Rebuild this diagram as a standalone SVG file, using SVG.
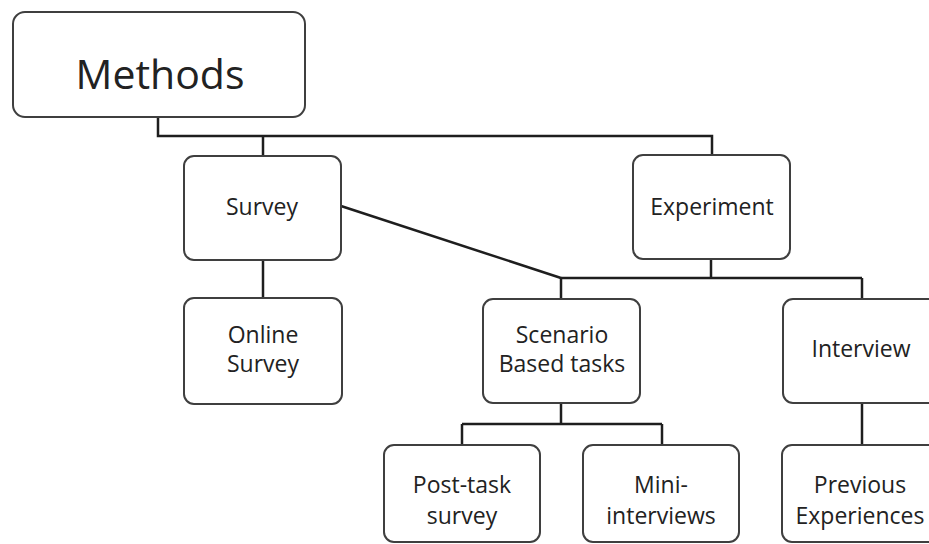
<svg xmlns="http://www.w3.org/2000/svg" width="929" height="544" viewBox="0 0 929 544">
  <style>
    .box { fill: #ffffff; stroke: #3f3f3f; stroke-width: 2; }
    .lbl { font-family: "Open Sans", "Noto Sans", sans-serif; font-size: 23px; fill: #222222; text-anchor: middle; }
    .conn { fill: none; stroke: #1e1e1e; stroke-width: 2.5; }
  </style>
  <rect width="929" height="544" fill="#ffffff"/>

  <!-- connectors -->
  <g id="connectors" class="conn">
    <path d="M158,117 V136 H712 V155"/>
    <path d="M263,136 V156"/>
    <path d="M263,260 V298"/>
    <path d="M341,206 L561,278"/>
    <path d="M711,259 V278"/>
    <path d="M561,278 H862"/>
    <path d="M561,278 V299"/>
    <path d="M862,278 V299"/>
    <path d="M561,403 V424"/>
    <path d="M462,424 H662"/>
    <path d="M462,424 V445"/>
    <path d="M662,424 V445"/>
    <path d="M862,403 V445"/>
  </g>

  <!-- nodes -->
  <g id="methods">
    <rect class="box" x="13" y="12" width="292" height="105" rx="12"/>
    <text class="lbl" x="160" y="89" style="font-size:41px">Methods</text>
  </g>
  <g id="survey">
    <rect class="box" x="184" y="156" width="157" height="104" rx="10"/>
    <text class="lbl" x="262" y="215">Survey</text>
  </g>
  <g id="experiment">
    <rect class="box" x="633" y="155" width="157" height="104" rx="10"/>
    <text class="lbl" x="712" y="215">Experiment</text>
  </g>
  <g id="online-survey">
    <rect class="box" x="184" y="298" width="158" height="106" rx="10"/>
    <text class="lbl" x="263" y="343">Online</text>
    <text class="lbl" x="263" y="372">Survey</text>
  </g>
  <g id="scenario-tasks">
    <rect class="box" x="483" y="299" width="157" height="104" rx="10"/>
    <text class="lbl" x="562" y="343">Scenario</text>
    <text class="lbl" x="562" y="372">Based tasks</text>
  </g>
  <g id="interview">
    <rect class="box" x="783" y="299" width="157" height="104" rx="10"/>
    <text class="lbl" x="861" y="357">Interview</text>
  </g>
  <g id="post-task-survey">
    <rect class="box" x="384" y="445" width="156" height="97" rx="10"/>
    <text class="lbl" x="462" y="493">Post-task</text>
    <text class="lbl" x="462" y="524">survey</text>
  </g>
  <g id="mini-interviews">
    <rect class="box" x="583" y="445" width="156" height="97" rx="10"/>
    <text class="lbl" x="661" y="493">Mini-</text>
    <text class="lbl" x="661" y="524">interviews</text>
  </g>
  <g id="previous-experiences">
    <rect class="box" x="782" y="445" width="158" height="97" rx="10"/>
    <text class="lbl" x="860" y="493">Previous</text>
    <text class="lbl" x="860" y="524">Experiences</text>
  </g>
</svg>
